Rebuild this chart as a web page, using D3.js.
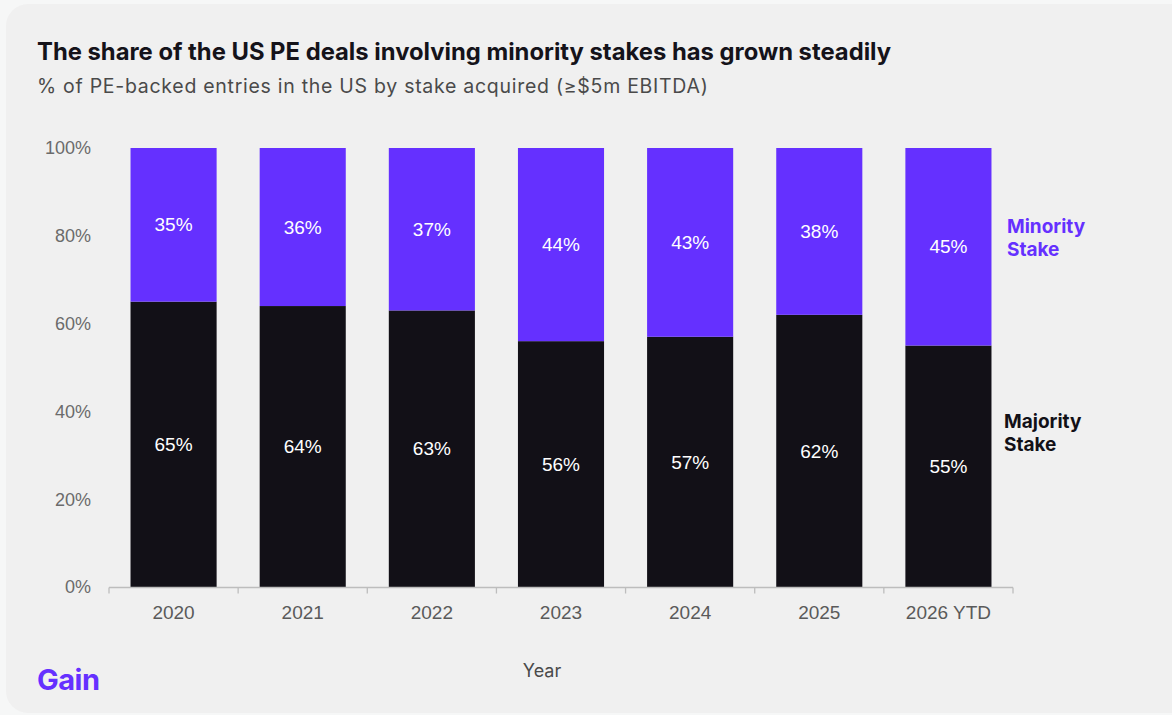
<!DOCTYPE html>
<html>
<head>
<meta charset="utf-8">
<script src="https://cdn.jsdelivr.net/npm/d3@7"></script>
<style>
  html, body { margin: 0; padding: 0; background: #f6f7f7; }
  svg { display: block; }
</style>
</head>
<body>
<svg id="chart" width="1172" height="715"></svg>
<script>
// Share of PE-backed entries in the US, by stake acquired
const years = ["2020", "2021", "2022", "2023", "2024", "2025", "2026 YTD"];
const majority = [65, 64, 63, 56, 57, 62, 55];
const minority = [35, 36, 37, 44, 43, 38, 45];
const yTicks = [0, 20, 40, 60, 80, 100];

const W = 1172, H = 715;
const purple = "#6530ff";
const dark = "#121017";
const svg = d3.select("#chart");

// card background
svg.append("rect")
  .attr("x", 6).attr("y", 4)
  .attr("width", W - 6 + 20).attr("height", H - 6)
  .attr("rx", 22).attr("fill", "#f0f0f0");

svg.append("text")
  .attr("x", 37).attr("y", 60)
  .attr("font-family", "Inter, sans-serif")
  .attr("font-weight", 700)
  .attr("font-size", 23.8)
  .attr("fill", "#15131a")
  .text("The share of the US PE deals involving minority stakes has grown steadily");

svg.append("text")
  .attr("x", 37).attr("y", 93)
  .attr("font-family", "Inter, sans-serif")
  .attr("font-size", 19.5)
  .attr("letter-spacing", 0.72)
  .attr("fill", "#4a4a4a")
  .text("% of PE-backed entries in the US by stake acquired (≥$5m EBITDA)");

const plotLeft = 109, plotRight = 1013, plotTop = 148, plotBottom = 587;

const x = d3.scaleBand()
  .domain(years)
  .range([plotLeft, plotRight])
  .paddingInner(1 / 3)
  .paddingOuter(1 / 6);

const y = d3.scaleLinear().domain([0, 100]).range([plotBottom, plotTop]);

const stackData = years.map((yr, i) => ({ year: yr, majority: majority[i], minority: minority[i] }));
const series = d3.stack().keys(["majority", "minority"])(stackData);
const colors = { majority: dark, minority: purple };

const g = svg.append("g");
series.forEach(s => {
  g.selectAll(null)
    .data(s)
    .join("rect")
    .attr("x", d => x(d.data.year))
    .attr("width", x.bandwidth())
    .attr("y", d => y(d[1]))
    .attr("height", d => y(d[0]) - y(d[1]))
    .attr("fill", colors[s.key]);

  g.selectAll(null)
    .data(s)
    .join("text")
    .attr("x", d => x(d.data.year) + x.bandwidth() / 2)
    .attr("y", d => (y(d[0]) + y(d[1])) / 2)
    .attr("dy", "0.35em")
    .attr("text-anchor", "middle")
    .attr("font-family", "'Liberation Sans', Arial, sans-serif")
    .attr("font-size", 19)
    .attr("fill", "#ffffff")
    .text(d => (d[1] - d[0]) + "%");
});

// y axis labels (no axis line)
svg.append("g")
  .selectAll("text")
  .data(yTicks)
  .join("text")
  .attr("x", 91)
  .attr("y", d => y(d))
  .attr("dy", "0.35em")
  .attr("text-anchor", "end")
  .attr("font-family", "'Liberation Sans', Arial, sans-serif")
  .attr("font-size", 18)
  .attr("fill", "#6b6b6b")
  .text(d => d + "%");

// x axis with ticks at band boundaries
const step = x.step();
const xAxis = svg.append("g").attr("transform", `translate(0,${plotBottom + 0.5})`);
xAxis.append("line")
  .attr("x1", plotLeft).attr("x2", plotRight)
  .attr("stroke", "#bdbdbd").attr("stroke-width", 1.3);
const boundaries = years.map(yr => x(yr) - (step - x.bandwidth()) / 2).concat([plotRight]);
xAxis.selectAll("line.tick")
  .data(boundaries)
  .join("line")
  .attr("class", "tick")
  .attr("x1", d => d).attr("x2", d => d)
  .attr("y1", 0).attr("y2", 6)
  .attr("stroke", "#bdbdbd").attr("stroke-width", 1.3);
xAxis.selectAll("text")
  .data(years)
  .join("text")
  .attr("x", d => x(d) + x.bandwidth() / 2)
  .attr("y", 25)
  .attr("dy", "0.35em")
  .attr("text-anchor", "middle")
  .attr("font-family", "'Liberation Sans', Arial, sans-serif")
  .attr("font-size", 19)
  .attr("fill", "#5a5a5a")
  .text(d => d);

svg.append("text")
  .attr("x", (plotLeft + plotRight) / 2 - 19).attr("y", 671)
  .attr("dy", "0.35em")
  .attr("text-anchor", "middle")
  .attr("font-family", "Inter, sans-serif")
  .attr("font-size", 18)
  .attr("fill", "#4a4a4a")
  .text("Year");

// series labels at the right end
const legend = [
  { lines: ["Minority", "Stake"], color: purple, baseline: 233, x: 1007 },
  { lines: ["Majority", "Stake"], color: dark, baseline: 428, x: 1004 }
];
legend.forEach(l => {
  const t = svg.append("text")
    .attr("y", l.baseline)
    .attr("font-family", "Inter, sans-serif")
    .attr("font-weight", 700)
    .attr("font-size", 19)
    .attr("fill", l.color);
  l.lines.forEach((ln, i) => {
    t.append("tspan").attr("x", l.x).attr("dy", i === 0 ? 0 : 23).text(ln);
  });
});

// brand mark
svg.append("text")
  .attr("x", 37).attr("y", 690)
  .attr("font-family", "Inter, sans-serif")
  .attr("font-weight", 700)
  .attr("font-size", 29)
  .attr("letter-spacing", -0.5)
  .attr("fill", purple)
  .text("Gain");
</script>
</body>
</html>
